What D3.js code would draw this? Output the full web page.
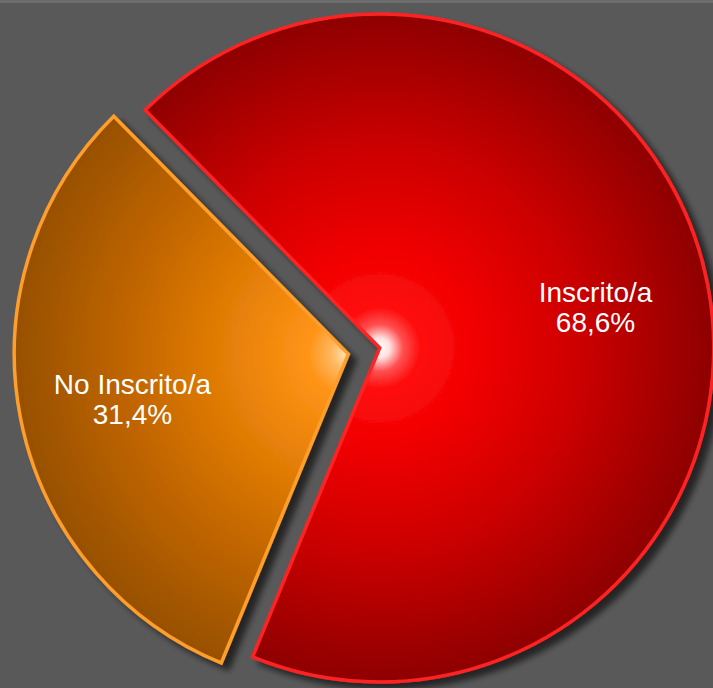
<!DOCTYPE html>
<html>
<head>
<meta charset="utf-8">
<script src="https://cdn.jsdelivr.net/npm/d3@7"></script>
<style>
  html, body { margin: 0; padding: 0; background: #595959; }
  svg { display: block; }
</style>
</head>
<body>
<svg id="chart" width="713" height="688"></svg>
<script>
// Data
const categories = ["Inscrito/a", "No Inscrito/a"];
const values = [68.6, 31.4];
const valueLabels = ["68,6%", "31,4%"];

// Styling (kept separate from data)
const W = 713, H = 688;
const cx = 364, cy = 351, R = 334, explode = 16;
const startDeg = -44.6;
const palettes = [
  { stroke: "#ff2424", stops: [[0, "#ffffff"], [0.03, "#ffe0e0"], [0.07, "#ff5050"], [0.12, "#ff0f0f"], [0.3, "#f00000"], [0.6, "#cc0000"], [1, "#8e0000"]] },
  { stroke: "#ff9e2a", stops: [[0, "#ffe6c0"], [0.05, "#ffb860"], [0.12, "#ff9418"], [0.3, "#ec8408"], [0.65, "#c26600"], [1, "#975000"]] }
];

const svg = d3.select("#chart");
svg.append("rect").attr("width", W).attr("height", H).attr("fill", "#595959");
svg.append("rect").attr("width", W).attr("height", 3).attr("fill", "#6c6c6c");

const defs = svg.append("defs");
const filter = defs.append("filter").attr("id", "shadow")
  .attr("x", "-10%").attr("y", "-10%").attr("width", "130%").attr("height", "130%");
filter.append("feGaussianBlur").attr("in", "SourceAlpha").attr("stdDeviation", 3).attr("result", "b");
filter.append("feOffset").attr("in", "b").attr("dx", 7).attr("dy", 6).attr("result", "o");
filter.append("feComponentTransfer").attr("in", "o").attr("result", "s")
  .append("feFuncA").attr("type", "linear").attr("slope", 0.6);
const merge = filter.append("feMerge");
merge.append("feMergeNode").attr("in", "s");
merge.append("feMergeNode").attr("in", "SourceGraphic");

const toRad = d => d * Math.PI / 180;
const pie = d3.pie().sort(null)
  .startAngle(toRad(startDeg)).endAngle(toRad(startDeg) + 2 * Math.PI);
const arcs = pie(values);
const arc = d3.arc().innerRadius(0).outerRadius(R);
const labelArc = d3.arc().innerRadius(220).outerRadius(220);

const g = svg.append("g").attr("transform", `translate(${cx},${cy})`);

arcs.forEach((a, i) => {
  const mid = (a.startAngle + a.endAngle) / 2;
  const ox = explode * Math.sin(mid), oy = -explode * Math.cos(mid);
  const grad = defs.append("radialGradient").attr("id", "grad" + i)
    .attr("gradientUnits", "userSpaceOnUse")
    .attr("cx", 0).attr("cy", 0).attr("r", R).attr("fx", 0).attr("fy", 0);
  palettes[i].stops.forEach(s => grad.append("stop").attr("offset", s[0]).attr("stop-color", s[1]));
  const sg = g.append("g").attr("transform", `translate(${ox},${oy})`);
  sg.append("path")
    .attr("d", arc(a))
    .attr("fill", `url(#grad${i})`)
    .attr("stroke", palettes[i].stroke)
    .attr("stroke-width", 3.5)
    .attr("stroke-linejoin", "miter")
    .attr("filter", "url(#shadow)");
});

arcs.forEach((a, i) => {
  const mid = (a.startAngle + a.endAngle) / 2;
  const ox = explode * Math.sin(mid), oy = -explode * Math.cos(mid);
  const [lx, ly] = labelArc.centroid(a);
  const t = g.append("text")
    .attr("x", lx + ox).attr("y", ly + oy)
    .attr("text-anchor", "middle")
    .attr("font-family", "'Liberation Sans', Arial, sans-serif")
    .attr("font-size", 28)
    .attr("fill", "#ffffff");
  t.append("tspan").attr("x", lx + ox).attr("dy", -3).text(categories[i]);
  t.append("tspan").attr("x", lx + ox).attr("dy", 30).text(valueLabels[i]);
});
</script>
</body>
</html>
